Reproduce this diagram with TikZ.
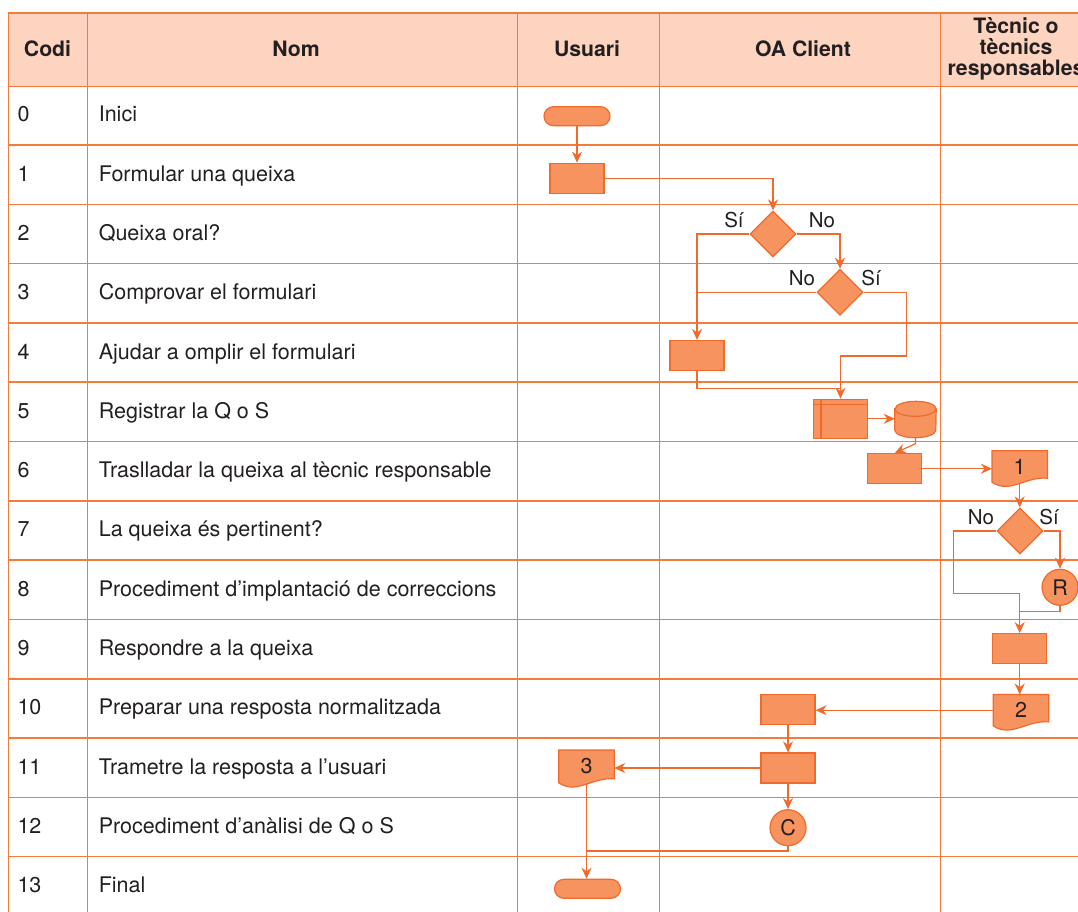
\documentclass[tikz,border=0pt]{standalone}
\usepackage{fontspec}
\setmainfont{TeX Gyre Heros}
\usetikzlibrary{shapes.geometric,arrows.meta,calc}
\pgfdeclarelayer{bg}
\pgfdeclarelayer{mid}
\pgfsetlayers{bg,mid,main}

\definecolor{gridC}{HTML}{F47B3E}
\definecolor{headC}{HTML}{FDD4C0}
\definecolor{fillC}{HTML}{F7935F}
\definecolor{edgeC}{HTML}{F26A2B}
\definecolor{inkC}{HTML}{231F20}

% document symbol: straight top, wavy bottom
\newcommand\docoutline[1]{%
  \path[shp] (#1.north west) -- (#1.north east)
    -- ($(#1.south east)+(0,-4)$)
    .. controls ($(#1.south east)+(-22,-6)$) and ($(#1.south west)+(18,12)$) .. (#1.south west)
    -- cycle;}

\begin{document}
\begin{tikzpicture}[x=1pt,y=-1pt,
  every node/.style={text=inkC},
  gridline/.style={draw=gridC,line width=1.5pt},
  body/.style={font=\fontsize{21.5}{25}\selectfont, anchor=base west, inner sep=0pt},
  headtext/.style={font=\bfseries\fontsize{21.2}{21}\selectfont, align=center, inner sep=0pt},
  lbl/.style={font=\fontsize{20.5}{24}\selectfont, anchor=base, inner sep=0pt},
  shp/.style={fill=fillC, draw=edgeC, line width=1.2pt, inner sep=0pt},
  proc/.style={shp, rectangle, minimum width=54pt, minimum height=30pt},
  term/.style={shp, rectangle, rounded corners=9.5pt, minimum width=66pt, minimum height=19pt},
  decision/.style={shp, diamond, minimum width=46pt, minimum height=46pt},
  conn/.style={shp, circle, minimum size=36pt, font=\fontsize{21.5}{25}\selectfont},
  docbox/.style={inner sep=0pt, minimum width=55pt, minimum height=31pt, font=\fontsize{21.5}{25}\selectfont},
  flow/.style={draw=edgeC, line width=1.2pt},
  arr/.style={flow, -{Stealth[length=11pt,width=10pt,inset=3.5pt]}},
]
\useasboundingbox (0,0) rectangle (1078,911);

% ---------- table ----------
\begin{pgfonlayer}{bg}
\begin{scope}
  \clip (0,0) rectangle (1078,911);
  \fill[headC] (8.3,13) rectangle (1100,86.5);
  \draw[gridline] (8.3,13) -- (1100,13);
  \draw[gridline] (8.3,86.5) -- (1100,86.5);
  \foreach \k in {1,...,13}{
    \pgfmathsetmacro\yl{145+59.31*(\k-1)}
    \draw[gridline] (8.3,\yl) -- (1100,\yl);
  }
  \foreach \xl in {8.3,87.3,517.5,659.3,940.7}{
    \draw[gridline] (\xl,13) -- (\xl,920);
  }
\end{scope}
\end{pgfonlayer}

% header
\node[headtext] (hCodi) at (47.5,49) {Codi};
\node[headtext] (hNom) at (296,49) {Nom};
\node[headtext] (hUsu) at (587,49) {Usuari};
\node[headtext] (hOA) at (803,49) {OA Client};
\node[headtext] (hTec) at (1016,49) {Tècnic o\\tècnics\\responsables};

% rows
\foreach \k/\t in {0/Inici, 1/Formular una queixa, 2/Queixa oral?, 3/Comprovar el formulari,
  4/Ajudar a omplir el formulari, 5/Registrar la Q o S,
  6/Traslladar la queixa al tècnic responsable, 7/La queixa és pertinent?,
  8/Procediment d’implantació de correccions, 9/Respondre a la queixa,
  10/Preparar una resposta normalitzada, 11/Trametre la resposta a l’usuari,
  12/Procediment d’anàlisi de Q o S, 13/Final}{
  \pgfmathsetmacro\yb{121.8+59.31*\k}
  \node[body] (code\k) at (17.3,\yb) {\k};
  \node[body] (name\k) at (98.6,\yb) {\t};
}

% ---------- flow symbols ----------
\node[term] (start) at (577,116.2) {};
\node[proc] (a1) at (577,178.3) {};
\node[decision] (d2) at (773,234) {};
\node[decision] (d3) at (840,292.3) {};
\node[proc] (a4) at (697,355.5) {};
\node[proc, minimum width=54.5pt, minimum height=39pt] (reg) at (840.5,418.8) {};
\draw[draw=edgeC, line width=1.2pt] ($(reg.north west)+(8.4,0)$) -- ($(reg.south west)+(8.4,0)$);
\draw[draw=edgeC, line width=1.2pt] ($(reg.north west)+(0,5.7)$) -- ($(reg.north east)+(0,5.7)$);

% database cylinder
\node[inner sep=0pt, minimum width=41pt, minimum height=36pt] (cyl) at (915.5,419.5) {};
\path[shp] ($(cyl.north west)+(0,7.5)$) -- ($(cyl.south west)+(0,-7.5)$)
  arc[start angle=180, end angle=360, x radius=20.5pt, y radius=7.5pt]
  -- ($(cyl.north east)+(0,7.5)$)
  arc[start angle=0, end angle=180, x radius=20.5pt, y radius=7.5pt] -- cycle;
\draw[draw=edgeC, line width=1.2pt] ($(cyl.north west)+(0,7.5)$)
  arc[start angle=180, end angle=360, x radius=20.5pt, y radius=7.5pt];

\node[proc] (a6) at (894.7,468.7) {};
\node[docbox] (doc1) at (1019.7,466.5) {1};
\node[decision] (d7) at (1020,531) {};
\node[conn] (R) at (1060,587.3) {R};
\node[proc] (a9) at (1019.7,648.7) {};
\node[docbox] (doc2) at (1021,710.2) {2};
\node[proc] (a10) at (788,709.7) {};
\node[proc] (a11) at (788,768) {};
\node[docbox, minimum height=32.5pt] (doc3) at (586.5,766.4) {3};
\node[conn] (C) at (788,827.7) {C};
\node[term] (fin) at (587.5,888.8) {};

\begin{pgfonlayer}{mid}
  \docoutline{doc1}
  \docoutline{doc2}
  \docoutline{doc3}
\end{pgfonlayer}

% branch labels
\node[lbl] (lS2) at (734,227) {Sí};
\node[lbl] (lN2) at (822,227) {No};
\node[lbl] (lN3) at (802,285) {No};
\node[lbl] (lS3) at (871,285) {Sí};
\node[lbl] (lN7) at (981,524) {No};
\node[lbl] (lS7) at (1049,524) {Sí};

% bend points
\coordinate (s3) at (906.7,356);
\coordinate (j4) at (840.5,388.3);
\coordinate (n7) at (953.3,593.3);
\coordinate (jR) at (1019.7,611.7);
\coordinate (jC) at (586.5,851);

% ---------- connectors ----------
\begin{pgfonlayer}{bg}
  \draw[arr] (start) -- (a1);
  \draw[arr] (a1.east) -| (d2.north);
  \draw[arr] (d2.west) -| (a4.north);
  \draw[arr] (d2.east) -| (d3.north);
  \draw[flow] (d3.west) -- (d3.west -| a4.north);
  \draw[arr] (d3.east) -| (s3) -| (reg.north);
  \draw[flow] (a4.south) |- (j4);
  \draw[arr] (reg.east) -- (reg.east -| cyl.west);
  \draw[arr] (cyl.south) -- ++(0,6) -- (a6.north);
  \draw[arr] (a6.east) -- (a6.east -| doc1.west);
  \draw[arr] (doc1.south) -- (doc1.south |- d7.north);
  \draw[arr] (d7.east) -| (R.north);
  \draw[arr] (d7.west) -| (n7) -| (a9.north);
  \draw[flow] (R.south) |- (jR);
  \draw[arr] (a9.south) -- (a9.south |- doc2.north);
  \draw[arr] (doc2.west) -- (doc2.west -| a10.east);
  \draw[arr] (a10) -- (a11);
  \draw[arr] (a11.west) -- (a11.west -| doc3.east);
  \draw[arr] (a11) -- (C);
  \draw[arr] (doc3.south) -- (doc3.south |- fin.north);
  \draw[flow] (C.south) |- (jC);
\end{pgfonlayer}
\end{tikzpicture}
\end{document}
